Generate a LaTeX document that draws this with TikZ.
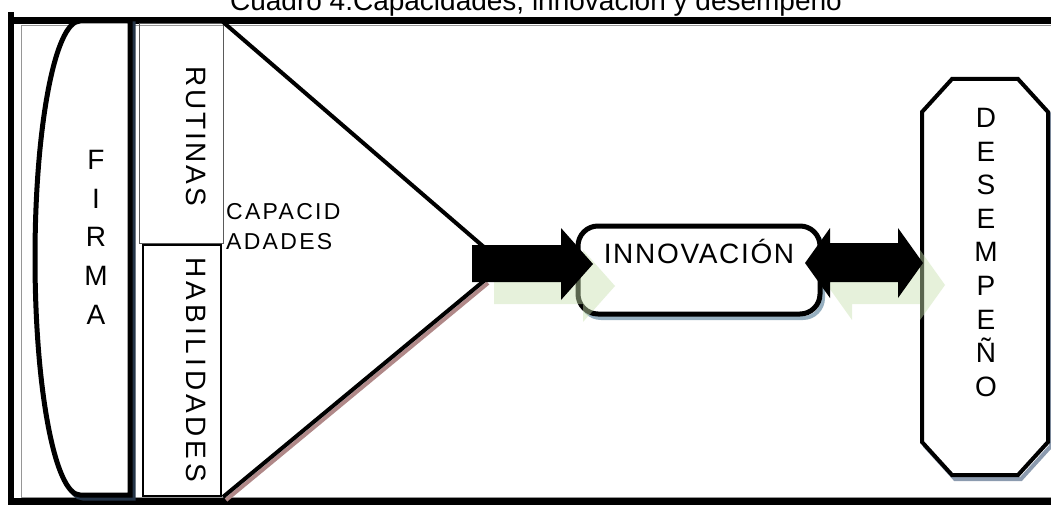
\documentclass[tikz,border=0pt]{standalone}
\usepackage{fontspec}
\setmainfont{Liberation Sans}
\newfontfamily\lsB[LetterSpace=10]{Liberation Sans}
\newfontfamily\lsC[LetterSpace=14]{Liberation Sans}
\newfontfamily\lsD[LetterSpace=6]{Liberation Sans}
\definecolor{greensh}{RGB}{200,225,175}
\definecolor{navysh}{RGB}{36,52,71}
\definecolor{brownsh}{RGB}{176,136,136}
\definecolor{bluesh}{RGB}{150,175,192}
\definecolor{graysh}{RGB}{140,155,175}
\definecolor{framegray}{RGB}{150,150,150}
\begin{document}
\begin{tikzpicture}[x=1pt,y=-1pt,
  bigtxt/.style={font=\fontsize{28}{33.6}\selectfont},
  heavy/.style={line width=5pt},
  tri/.style={line width=4pt},
  greenarrow/.style={fill=greensh, fill opacity=0.45},
  blackarrow/.style={fill=black}]
\useasboundingbox (0,0) rectangle (1051,505);
% title (cut at the top, as in the original)
\node[font=\fontsize{28}{30}\selectfont, anchor=base, inner sep=0] (title) at (536,11) {Cuadro 4.Capacidades, innovación y desempeño};
% frame
\fill (8,12) rectangle (14,505);
\fill (8,17) rectangle (1051,24);
\fill (8,498) rectangle (1051,505);
\draw[framegray, line width=0.8pt] (1051,25) -- (21,25) -- (21,497) -- (1051,497);
% FIRMA shape
\def\firmapath{(130,21) -- (80,21) .. controls (55,21) and (35,127) .. (35,258) .. controls (35,389) and (55,495) .. (80,495) -- (130,495) -- cycle}
\begin{scope}[shift={(3,3)}]
\draw[navysh, heavy, fill=navysh] \firmapath;
\end{scope}
\draw[heavy, fill=white] \firmapath;
\node[align=center, anchor=north, inner sep=0, font=\fontsize{28}{38.75}\selectfont] (firma) at (96,150) {F\\I\\R\\M\\A};
% RUTINAS / HABILIDADES boxes
\draw[framegray!60!black, line width=1pt] (139,24) rectangle (223,243);
\node[rotate=-90, font=\lsB\fontsize{28}{30}\selectfont] (rutinas) at (196,136) {RUTINAS};
\draw[line width=1.5pt, fill=white] (143,245) rectangle (221,496);
\node[rotate=-90, font=\lsC\fontsize{28}{30}\selectfont] (habil) at (196,370) {HABILIDADES};
% triangle (capacidades)
\draw[brownsh, tri] (488,283) -- (226,500);
\draw[tri] (485,280) -- (223,497);
\draw[tri] (223,22) -- (485,248);
\node[font=\lsB\fontsize{23}{30}\selectfont, align=left, anchor=north west, inner sep=0] (capac) at (226,203) {CAPACID\\ADADES};
% INNOVACION box
\draw[bluesh, line width=4pt, rounded corners=20pt] (581,230) rectangle (823,318);
\node[draw, heavy, fill=white, rounded corners=20pt, inner sep=0, minimum width=242pt,
      text height=37pt, text depth=51pt, font=\lsD\fontsize{28}{30}\selectfont] (innov) at (699,270) {INNOVACIÓN};
% DESEMPENO box
\def\despath{(952,79) -- (1018,79) -- (1048,112) -- (1048,442) -- (1018,475) -- (952,475) -- (922,442) -- (922,112) -- cycle}
\begin{scope}[shift={(3,4)}]
\draw[graysh, line width=4pt] \despath;
\end{scope}
\draw[line width=4pt, fill=white] \despath;
\node[align=center, anchor=north, inner sep=0, font=\fontsize{28}{33.6}\selectfont] (desemp) at (986,108) {D\\E\\S\\E\\M\\P\\E\\Ñ\\O};
% arrows
\def\arrowA{(472,245) -- (561,245) -- (561,228) -- (593,264) -- (561,300) -- (561,282) -- (472,282) -- cycle}
\def\arrowB{(805,263) -- (830,228) -- (830,243) -- (898,243) -- (898,228) -- (923,263) -- (898,298) -- (898,282) -- (830,282) -- (830,298) -- cycle}
\begin{scope}[shift={(22,22)}]
\fill[greenarrow] \arrowA;
\fill[greenarrow] \arrowB;
\end{scope}
\fill[blackarrow] \arrowA;
\fill[blackarrow] \arrowB;
\end{tikzpicture}
\end{document}
